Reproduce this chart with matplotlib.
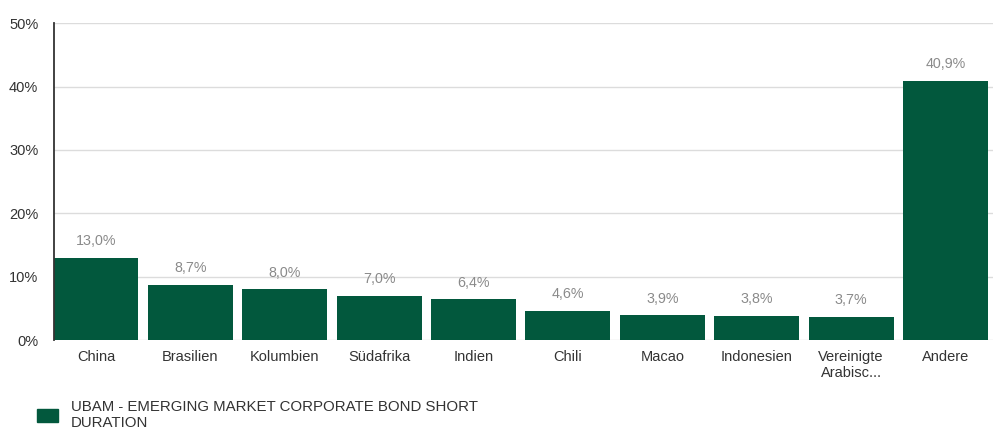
import matplotlib
matplotlib.use("Agg")
import matplotlib.pyplot as plt
from matplotlib.patches import Patch

categories = ["China", "Brasilien", "Kolumbien", "Südafrika", "Indien", "Chili",
              "Macao", "Indonesien", "Vereinigte\nArabisc...", "Andere"]
values = [13.0, 8.7, 8.0, 7.0, 6.4, 4.6, 3.9, 3.8, 3.7, 40.9]
value_labels = ["13,0%", "8,7%", "8,0%", "7,0%", "6,4%", "4,6%", "3,9%", "3,8%", "3,7%", "40,9%"]
yticks = [0, 10, 20, 30, 40, 50]
series_name = "UBAM - EMERGING MARKET CORPORATE BOND SHORT\nDURATION"

green = "#02583d"
plt.rcParams["font.family"] = ["Liberation Sans", "DejaVu Sans"]

fig = plt.figure(figsize=(9.94, 4.28), dpi=100)
ax = fig.add_axes([53.5 / 994, 88 / 428, (992.7 - 53.5) / 994, (340 - 23.3) / 428])

x = range(len(categories))
ax.bar(x, values, width=0.9, color=green, zorder=3)

for i, v in enumerate(values):
    ax.annotate(value_labels[i], (i, v), xytext=(0, 7), textcoords="offset points",
                ha="center", va="bottom", fontsize=10.3, color="#8a8a8a")

ax.set_xlim(-0.45, 9.5)
ax.set_ylim(0, 50)
ax.set_yticks(yticks)
ax.set_yticklabels([f"{t}%" for t in yticks])
ax.set_xticks(list(x))
ax.set_xticklabels(categories)
ax.tick_params(axis="both", length=0, labelsize=10.5, colors="#333333")
ax.tick_params(axis="y", pad=11)
ax.tick_params(axis="x", pad=7)

ax.grid(axis="y", color="#dcdcdc", linewidth=1, zorder=0)
for s in ["top", "right", "bottom"]:
    ax.spines[s].set_visible(False)
ax.spines["left"].set_color("#333333")
ax.spines["left"].set_linewidth(1.3)
ax.spines["left"].set_zorder(4)

fig.legend(handles=[Patch(color=green, label=series_name)],
           loc="upper left", bbox_to_anchor=(31 / 994, 1 - 394 / 428),
           frameon=False, fontsize=10.8, handlelength=1.4, handleheight=0.9,
           handletextpad=0.85, labelcolor="#333333", borderaxespad=0)

fig.savefig("out.png", dpi=100)
